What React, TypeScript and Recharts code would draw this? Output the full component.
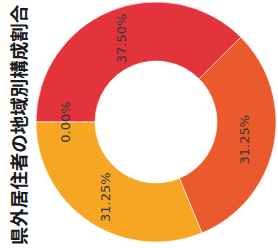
import React from 'react';
import { PieChart, Pie, Cell } from 'recharts';

const categories = ['地域A', '地域B', '地域C', '地域D'];
const shares = [37.5, 31.25, 31.25, 0];
const colors = ['#E3333B', '#EA5A2C', '#F6A623', '#FBC531'];
const title = '県外居住者の地域別構成割合';

const data = categories.map((name, i) => ({ name, value: shares[i] }));

const RAD = Math.PI / 180;

const renderLabel = (props: any) => {
  const { cx, cy, midAngle, innerRadius, outerRadius, value } = props;
  const r = (innerRadius + outerRadius) / 2;
  const x = cx + r * Math.cos(-midAngle * RAD);
  const y = cy + r * Math.sin(-midAngle * RAD);
  return (
    <text
      x={x}
      y={y}
      fill="#3a3a3a"
      fontSize={13}
      fontFamily="DejaVu Sans, sans-serif"
      textAnchor="middle"
      dominantBaseline="central"
      transform={`rotate(-90 ${x} ${y})`}
    >
      {Number(value).toFixed(2) + '%'}
    </text>
  );
};

export default function App() {
  return (
    <div style={{ position: 'absolute', left: 0, top: 0, width: 278, height: 248, background: '#fff' }}>
      <PieChart width={278} height={248} margin={{ top: 0, right: 0, bottom: 0, left: 0 }}>
        <Pie
          data={data}
          dataKey="value"
          nameKey="name"
          cx={156}
          cy={122}
          innerRadius={61}
          outerRadius={120}
          startAngle={180}
          endAngle={-180}
          stroke="rgba(255,255,255,0.6)"
          strokeWidth={1}
          label={renderLabel}
          labelLine={false}
          isAnimationActive={false}
        >
          {data.map((d, i) => (
            <Cell key={d.name} fill={colors[i]} />
          ))}
        </Pie>
      </PieChart>
      <svg width={278} height={248} style={{ position: 'absolute', left: 0, top: 0, pointerEvents: 'none' }}>
        <text
          x={18}
          y={125}
          fontSize={18.5}
          fontWeight="bold"
          fill="#1a1a1a"
          fontFamily="'Noto Sans CJK JP', sans-serif"
          textAnchor="middle"
          dominantBaseline="central"
          transform="rotate(-90 18 125)"
        >
          {title}
        </text>
      </svg>
    </div>
  );
}
